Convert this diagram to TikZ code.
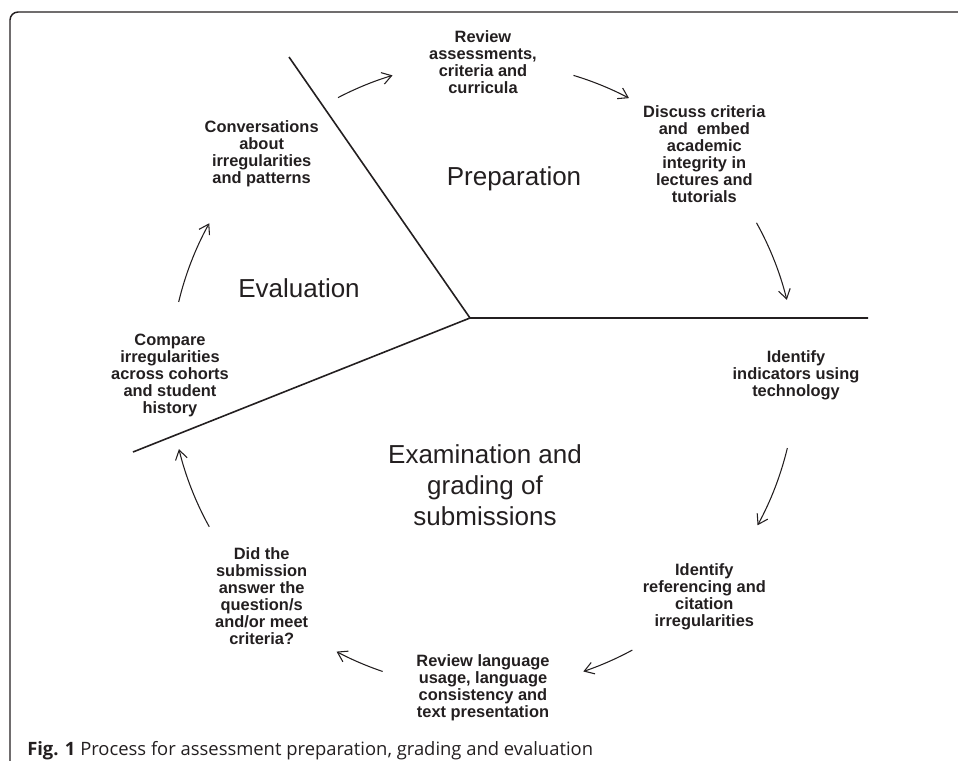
\documentclass[tikz,border=0pt]{standalone}
\usepackage{fontspec}
\setmainfont{Liberation Sans}
\newfontfamily\capfont{Open Sans}
\usetikzlibrary{arrows.meta,calc}
\definecolor{inkgray}{HTML}{231F20}
\begin{document}
\begin{tikzpicture}[x=0.75pt,y=0.75pt,>={Straight Barb[length=7pt,width=9pt]},
  stagetext/.style={align=center,inner sep=0pt,text=inkgray,font=\fontsize{12.3}{12.75}\selectfont\bfseries},
  phasetext/.style={align=center,inner sep=0pt,text=inkgray,font=\fontsize{19.5}{23.25}\selectfont},
  divider/.style={line width=1.2pt,draw=inkgray},
  cyclearrow/.style={->,line width=0.8pt,draw=inkgray}]
	\useasboundingbox (0,0) rectangle (958,-761);
	\draw[line width=1.1pt,draw=inkgray,rounded corners=6pt] (958,-12) -- (10,-12) -- (10,-761);
	\coordinate (hub) at (470,-318);
	\coordinate (ctr) at (483,-375);
	\coordinate (cutA) at (289,-57);
	\coordinate (cutB) at (868,-318);
	\coordinate (cutC) at (133,-452);
	\draw[divider] (cutA) -- (hub) -- (cutB) (hub) -- (cutC);
	\node[phasetext,anchor=base] (prep) at (514,-185) {Preparation};
	\node[phasetext,anchor=base] (eval) at (299,-297) {Evaluation};
	\node[phasetext] (exam) at (485,-485) {Examination and\\grading of\\submissions};
	\node[stagetext] (review) at ($(ctr)+(90:313)$) {Review\\assessments,\\criteria and\\curricula};
	\node[stagetext] (discuss) at ($(ctr)+(45:313)$) {Discuss criteria\\and\ \ embed\\academic\\integrity in\\lectures and\\tutorials};
	\node[stagetext] (tech) at ($(ctr)+(0:313)$) {Identify\\indicators using\\technology};
	\node[stagetext] (citation) at ($(ctr)+(-45:313)$) {Identify\\referencing and\\citation\\irregularities};
	\node[stagetext] (language) at ($(ctr)+(-90:313)$) {Review language\\usage, language\\consistency and\\text presentation};
	\node[stagetext] (answer) at ($(ctr)+(-135:313)$) {Did the\\submission\\answer the\\question/s\\and/or meet\\criteria?};
	\node[stagetext] (compare) at ($(ctr)+(180:313)$) {Compare\\irregularities\\across cohorts\\and student\\history};
	\node[stagetext] (talk) at ($(ctr)+(135:313)$) {Conversations\\about\\irregularities\\and patterns};
	\foreach \a/\b in {117.6/106.8,73.2/62.2,29.1/13.9,-13.5/-28.7,-61.5/-71.3,-108.7/-117.9,-151/-166.3,166.5/151}
		\draw[cyclearrow] ($(ctr)+(\a:313)$) arc[start angle=\a,end angle=\b,radius=313];
	\node[anchor=base west,inner sep=0pt,text=inkgray,font=\capfont\fontsize{13.8}{16}\selectfont] (caption) at (27,-755) {\textbf{Fig. 1} Process for assessment preparation, grading and evaluation};
\end{tikzpicture}
\end{document}
